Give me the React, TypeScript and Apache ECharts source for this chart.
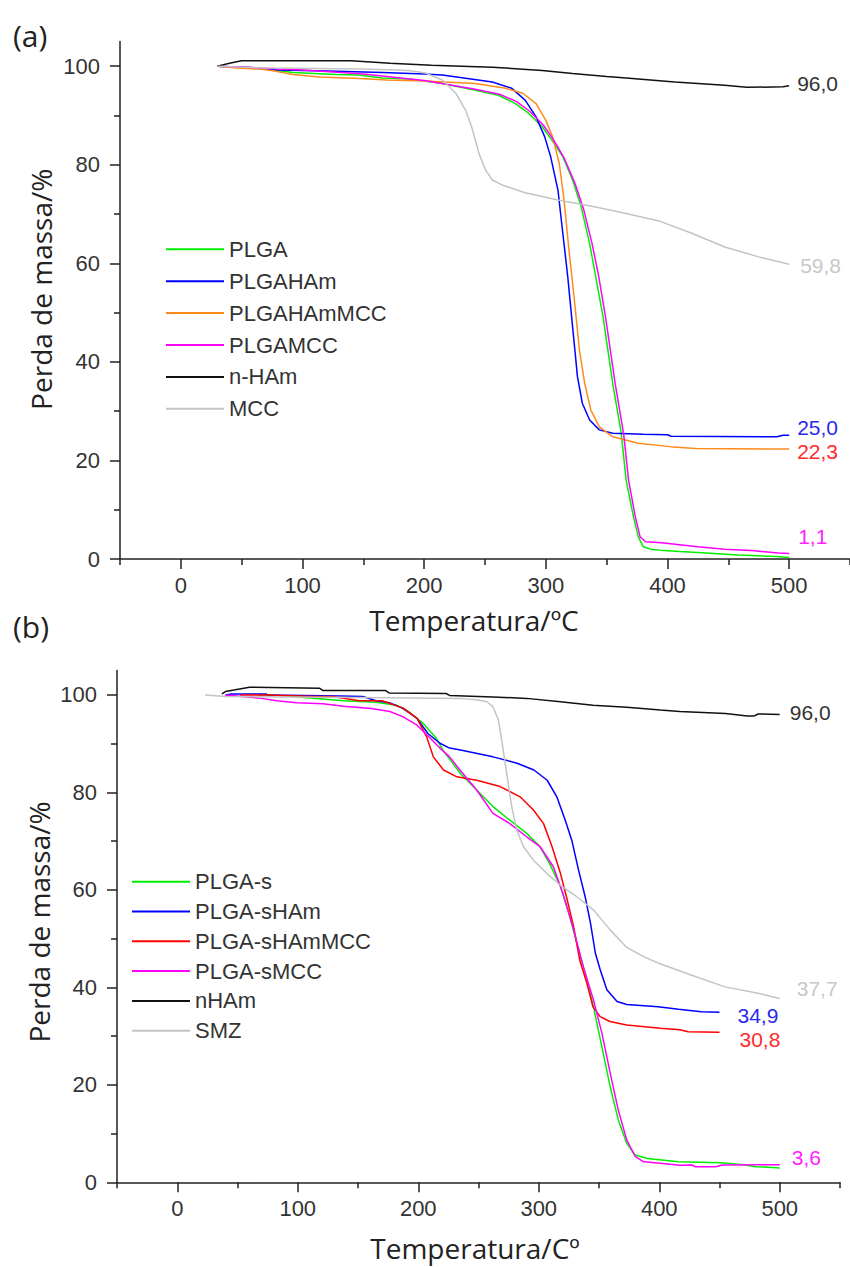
import React, { useEffect, useRef } from 'react';
import * as echarts from 'echarts';

// ---------- tick values ----------
const xMajorTicks = [0, 100, 200, 300, 400, 500];
const xMinorTicks = [-50, 50, 150, 250, 350, 450, 550];
const yMajorTicks = [0, 20, 40, 60, 80, 100];
const yMinorTicks = [10, 30, 50, 70, 90];

// ---------- panel (a) ----------
const namesA = ['PLGA', 'PLGAHAm', 'PLGAHAmMCC', 'PLGAMCC', 'n-HAm', 'MCC'];
const plgaA = [[30,100],[58,99.6],[71,99.4],[92,98.7],[128,98.3],[146,98.2],[166,97.6],[188,97.4],[200,97],[215,96.5],[242,95.1],[261,94.1],[275,92.4],[286,90.4],[297,87.7],[305,85],[314,81.6],[322,76.9],[329,71.5],[336,64],[341,57.3],[347,49.2],[351,42.4],[355,35.6],[362,25.5],[366,16],[372,8.6],[376,4.5],[380,2.5],[386,2],[394,1.8],[410,1.5],[425,1.3],[458,0.8],[490,0.5],[500,0.3]];
const plgaHAmA = [[30,100],[57,99.7],[79,99.2],[120,99],[166,98.7],[200,98.4],[215,98.2],[256,96.8],[272,95.5],[283,93.1],[292,89.7],[299,85.7],[304,81.6],[310,74.8],[314,66],[318,57.3],[322,47.1],[326,37],[330,31.6],[336,28.2],[344,26.2],[355,25.5],[380,25.3],[400,25.2],[403,24.9],[490,24.8],[495,25.1],[500,25.1]];
const plgaHAmMCCA = [[30,100],[46,99.6],[65,99.4],[77,99],[92,98.3],[114,97.8],[147,97.5],[169,97.2],[201,97.0],[242,96.5],[267,95.5],[281,94.5],[292,92.4],[300,89],[305.5,85.7],[311,80.3],[315,72.8],[319,62.7],[323.5,52.5],[327.6,42.4],[332,35.6],[337,30.2],[344,26.8],[355,24.8],[376,23.5],[402,22.8],[423,22.4],[500,22.3]];
const plgaMCCA = [[30,100],[60,99.7],[100,99.2],[150,98.4],[200,97.1],[242,95.3],[262,94.3],[276,92.8],[287,90.8],[298,88],[306,85.2],[315,81.4],[324,76.2],[331,71],[338,64],[343.5,57.3],[349,49.2],[353,42.4],[357,35.6],[364,25.3],[368,16],[373.5,8.6],[377.5,4.5],[382,3.5],[395,3.3],[410,2.9],[425,2.5],[447,2.0],[469,1.7],[491,1.2],[500,1.1]];
const nHAmA = [[30,100],[40,100.6],[50,101.1],[140,101.1],[172,100.6],[206,100.2],[256,99.8],[297,99.1],[322,98.5],[350,97.9],[366,97.6],[406,96.8],[447,96.1],[465,95.7],[495,95.8],[500,96.0]];
const mccA = [[30,100],[70,99.6],[150,99.4],[187,99.1],[201,98.6],[215,97.2],[226,94.5],[234,91.1],[239,87.7],[245,82.3],[250.5,78.9],[256,76.9],[264,75.9],[283,74.3],[311,72.8],[339,71.5],[366,70.1],[393,68.6],[420,66.1],[447,63.3],[475,61.3],[500,59.8]];

// ---------- panel (b) ----------
const namesB = ['PLGA-s', 'PLGA-sHAm', 'PLGA-sHAmMCC', 'PLGA-sMCC', 'nHAm', 'SMZ'];
const plgaSB = [[67,100],[80,100],[111,99.4],[138,98.8],[165,98.5],[182,97.9],[193,96.4],[204,94.2],[215,91.1],[221,88.5],[235,83.9],[248.5,80.5],[262,77.1],[276,74.3],[290,71.6],[301,68.9],[309,65.4],[318,60.7],[325,55.2],[331.6,49],[338.5,42.9],[345.4,36],[352.4,27.8],[359.3,19.6],[366,12.8],[373,8],[380,5.6],[390,4.9],[416,4.2],[451,4.0],[470,3.6],[480,3.2],[498,3.0],[500,2.9]];
const plgaSHAmB = [[40,100],[45,100.2],[74,100.2],[75,100],[135,99.8],[154,99.7],[165,98.8],[176,98.4],[187,97.3],[199,95.2],[208,92.1],[218,90.1],[226,89.1],[235,88.7],[262,87.3],[282,86],[296,84.6],[307,82.5],[315,79.1],[322,74.3],[327.4,70.2],[333,64.1],[338.5,58.6],[343,53.1],[347,47],[351,43.6],[356.5,39.5],[365,37.1],[373,36.5],[399,36],[416,35.5],[435,35],[450,34.9]];
const plgaSHAmMCCB = [[52,100],[75,100],[113,99.7],[129,99.7],[151,98.8],[170,98.8],[187.5,97.3],[199,95.2],[207,91.4],[212.5,87.3],[216,86.2],[221,84.6],[232,83.2],[248.5,82.5],[268,81.2],[284.5,79.1],[295.6,76.4],[304,73.6],[311,68.9],[318,63.4],[323,58.6],[329,52.4],[334,45.6],[340,40.8],[345,36],[351,34],[359,33],[373,32.3],[401,31.6],[417,31.3],[424,30.9],[450,30.8]];
const plgaSMCCB = [[40,100],[70,99.3],[82.5,98.8],[99,98.4],[121,98.2],[138,97.7],[161,97.2],[176.5,96.6],[187.5,95.5],[199,93.8],[210,91.1],[218,89.1],[226,87.3],[234.6,84.6],[248.5,80.5],[262,75.7],[276,73.6],[290,70.9],[301,68.9],[312,64.8],[320,59.3],[329,51.8],[337,44.2],[345.4,37.4],[352.4,30.6],[359.3,22.4],[366,14.8],[373,8.7],[380,5.3],[387,4.2],[401,3.9],[417,3.5],[427,3.55],[430,3.2],[447,3.2],[452,3.55],[500,3.6]];
const nHAmB = [[37,100.2],[40,100.7],[47,101],[60,101.6],[118,101.4],[121,100.9],[173,100.9],[176,100.4],[223,100.3],[226,99.9],[262,99.6],[290,99.3],[318,98.6],[345,97.9],[373,97.5],[401,96.9],[417,96.6],[455,96.2],[473,95.7],[479,95.7],[482,96.1],[500,96.0]];
const smzB = [[23,100],[40,99.7],[150,99.5],[235,99.3],[248,99],[257,98.6],[262,97.6],[266.5,94.9],[269.3,90.7],[273.4,83.9],[277.6,77.1],[281.7,72.3],[287.3,68.9],[295.6,66.1],[306.6,63.4],[317.7,61],[331.5,58.6],[345.4,55.9],[359.3,51.8],[373,48.2],[387,46.3],[400,44.9],[427,42.5],[454.5,40.1],[482,38.8],[500,37.7]];

// ---------- end labels ----------
const endLabelsA = ['', '25,0', '22,3', '1,1', '96,0', '59,8'];
const endLabelsB = ['', '34,9', '30,8', '3,6', '96,0', '37,7'];

const AXIS_COLOR = '#222';
const TEXT_COLOR = '#333';
const TICK_FONT = "'Liberation Sans', Arial, sans-serif";
const TITLE_FONT = "'Open Sans', sans-serif";

export default function App() {
  const ref = useRef<HTMLDivElement>(null);
  useEffect(() => {
    if (!ref.current) return;
    const chart = echarts.init(ref.current, null, { renderer: 'svg' });

    const axisLineStyle = { color: AXIS_COLOR, width: 1.5 };
    const labelStyle = { fontSize: 22, color: TEXT_COLOR, fontFamily: TICK_FONT };

    const makeX = (gi: number, name: string, nameGap: number, pad: number[]) => [
      {
        type: 'value', gridIndex: gi, position: 'bottom', min: -50, max: 550,
        axisLine: { show: true, onZero: false, lineStyle: axisLineStyle },
        axisTick: { show: true, inside: false, length: 10, customValues: xMajorTicks, lineStyle: axisLineStyle },
        axisLabel: { show: true, customValues: xMajorTicks, margin: 15, ...labelStyle },
        splitLine: { show: false },
        name, nameLocation: 'middle', nameGap, nameMoveOverlap: false,
        nameTextStyle: { fontFamily: TITLE_FONT, fontSize: 28, lineHeight: 28, color: AXIS_COLOR, align: 'center', verticalAlign: 'middle', padding: pad },
      },
      {
        type: 'value', gridIndex: gi, position: 'bottom', min: -50, max: 550,
        axisLine: { show: false, onZero: false },
        axisTick: { show: true, inside: false, length: 6, customValues: xMinorTicks, lineStyle: axisLineStyle },
        axisLabel: { show: false },
        splitLine: { show: false },
      },
    ];
    const makeY = (gi: number, name: string, nameGap: number, pad: number[]) => [
      {
        type: 'value', gridIndex: gi, position: 'left', min: 0, max: 105,
        axisLine: { show: true, onZero: false, lineStyle: axisLineStyle },
        axisTick: { show: true, inside: false, length: 10, customValues: yMajorTicks, lineStyle: axisLineStyle },
        axisLabel: { show: true, customValues: yMajorTicks, margin: 20, ...labelStyle },
        splitLine: { show: false },
        name, nameLocation: 'middle', nameGap, nameMoveOverlap: false,
        nameTextStyle: { fontFamily: TITLE_FONT, fontSize: 28, lineHeight: 28, color: AXIS_COLOR, align: 'center', verticalAlign: 'middle', padding: pad },
      },
      {
        type: 'value', gridIndex: gi, position: 'left', min: 0, max: 105,
        axisLine: { show: false, onZero: false },
        axisTick: { show: true, inside: false, length: 6, customValues: yMinorTicks, lineStyle: axisLineStyle },
        axisLabel: { show: false },
        splitLine: { show: false },
      },
    ];

    const colorsA = ['#00ee00', '#0000ff', '#ff8a1c', '#ff00ff', '#111111', '#c4c4c4'];
    const labelColorsA = ['#00ee00', '#2a2af0', '#ff2a2a', '#ff22ff', '#333333', '#c8c8c8'];
    const offsetsA = [[0, 0], [8, -7.5], [8, 2.5], [9, -17.5], [8, -2.5], [11, 1]];
    const dataA = [plgaA, plgaHAmA, plgaHAmMCCA, plgaMCCA, nHAmA, mccA];

    const colorsB = ['#00ee00', '#0000ff', '#ff0000', '#ff00ff', '#111111', '#c4c4c4'];
    const labelColorsB = ['#00ee00', '#2a2af0', '#ff2a2a', '#ff22ff', '#333333', '#c8c8c8'];
    const offsetsB = [[0, 0], [18, 3], [20, 7], [12, -7], [10, -1.5], [17, -10.5]];
    const dataB = [plgaSB, plgaSHAmB, plgaSHAmMCCB, plgaSMCCB, nHAmB, smzB];

    const mkSeries = (names: string[], data: number[][][], colors: string[], labels: string[], lcolors: string[], offs: number[][], xi: number, yi: number) =>
      names.map((n, i) => ({
        type: 'line', name: n, xAxisIndex: xi, yAxisIndex: yi, data: data[i],
        showSymbol: false, symbol: 'none', silent: true, color: colors[i],
        lineStyle: { color: colors[i], width: 1.5 },
        endLabel: labels[i]
          ? { show: true, formatter: labels[i], color: lcolors[i], fontSize: 21, lineHeight: 19, fontFamily: TICK_FONT, distance: 0, offset: offs[i] }
          : { show: false },
      }));

    const legendBase = {
      orient: 'vertical', icon: 'rect', itemWidth: 58, itemHeight: 2, padding: 0,
      selectedMode: false,
    };

    chart.setOption({
      animation: false,
      backgroundColor: '#ffffff',
      grid: [
        { left: 120, top: 41.5, width: 730, height: 517.5, outerBoundsMode: 'none' },
        { left: 117, top: 670.6, width: 723, height: 511.7, outerBoundsMode: 'none' },
      ],
      xAxis: [...makeX(0, 'Temperatura/ºC', 61, [0, 22, 0, 0]), ...makeX(1, 'Temperatura/Cº', 66, [0, 7, 0, 0])],
      yAxis: [...makeY(0, 'Perda de massa/%', 79, [0, 0, 0, 22]), ...makeY(1, 'Perda de massa/%', 78, [0, 0, 0, 9])],
      legend: [
        { ...legendBase, data: namesA, left: 166, top: 238.3, itemGap: 9.9,
          textStyle: { fontSize: 22, lineHeight: 22, color: TEXT_COLOR, fontFamily: TICK_FONT } },
        { ...legendBase, data: namesB, left: 132, top: 870.7, itemGap: 7.8,
          textStyle: { fontSize: 22, lineHeight: 20, color: TEXT_COLOR, fontFamily: TICK_FONT } },
      ],
      graphic: [
        { type: 'text', x: 13, y: 35, style: { text: '(a)', fontSize: 30, fontFamily: TITLE_FONT, fill: AXIS_COLOR, verticalAlign: 'middle' } },
        { type: 'text', x: 13, y: 626, style: { text: '(b)', fontSize: 30, fontFamily: TITLE_FONT, fill: AXIS_COLOR, verticalAlign: 'middle' } },
      ],
      series: [
        ...mkSeries(namesA, dataA, colorsA, endLabelsA, labelColorsA, offsetsA, 0, 0),
        ...mkSeries(namesB, dataB, colorsB, endLabelsB, labelColorsB, offsetsB, 2, 2),
      ],
    });
    return () => chart.dispose();
  }, []);
  return <div ref={ref} style={{ position: 'absolute', left: 0, top: 0, width: 850, height: 1267 }} />;
}
